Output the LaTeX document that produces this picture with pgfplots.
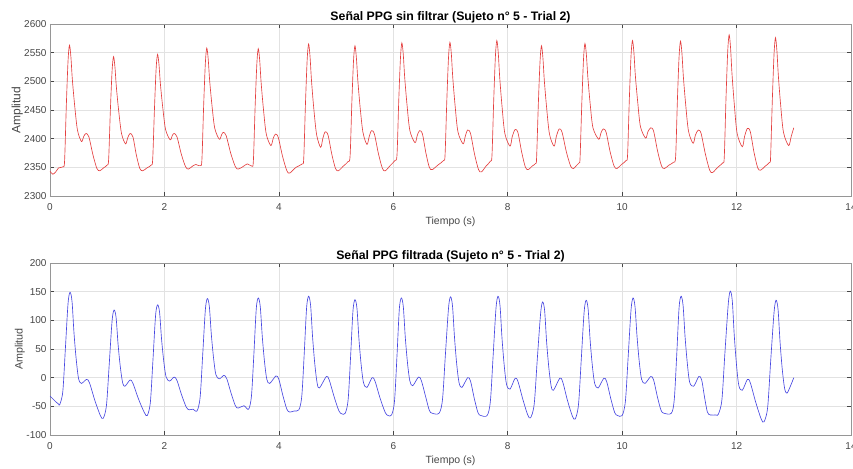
\documentclass[border=0pt]{standalone}
\usepackage{pgfplots}
\pgfplotsset{compat=1.18}
\usepackage{fontspec}
\setmainfont{Liberation Sans}
\definecolor{rawred}{RGB}{228,64,64}
\definecolor{filtblue}{RGB}{72,72,225}
\definecolor{gridgray}{RGB}{226,226,226}
\definecolor{framegray}{RGB}{150,150,150}
\definecolor{tickgray}{RGB}{70,70,70}
\pgfplotsset{
 matlab/.style={
  scale only axis, width=801pt, height=172pt,
  xmin=0, xmax=14, xtick={0,2,...,14},
  axis line style={framegray, line width=0.6pt},
  tick style={tickgray, line width=0.6pt},
  major tick length=4pt,
  tick align=inside,
  grid=major,
  major grid style={gridgray, line width=0.5pt},
  tick label style={font=\fontsize{10}{12}\selectfont, text=tickgray},
  xticklabel style={yshift=-4pt},
  /pgf/number format/assume math mode=true,
  /pgf/number format/1000 sep={},
  title style={font=\fontsize{12.3}{14}\selectfont\bfseries, at={(axis description cs:0.5,1)}, anchor=south, yshift=-9pt},
  xlabel style={font=\fontsize{10.5}{12}\selectfont, text=tickgray, anchor=center},
  ylabel style={text=tickgray, anchor=center},
 }
}
\begin{document}
\begin{tikzpicture}
\begin{axis}[matlab, at={(50pt,272pt)}, anchor=south west,
  ymin=2300, ymax=2600, ytick={2300,2350,...,2600},
  title={Señal PPG sin filtrar (Sujeto n° 5 - Trial 2)},
  xlabel={Tiempo (s)}, ylabel={Amplitud},
  xlabel style={at={(axis description cs:0.5,-0.152)}},
  ylabel style={at={(axis description cs:-0.041,0.5)}, font=\fontsize{12}{14}\selectfont}]
\addplot[rawred, line width=0.65pt, smooth, tension=0.5] table {
0 2343
0.05 2338
0.10 2342
0.15 2349
0.20 2350
0.23 2351
0.255 2361
0.285 2457
0.315 2535
0.34 2563
0.365 2543
0.39 2504
0.43 2459
0.48 2415
0.55 2395
0.59 2404
0.63 2409
0.68 2403
0.75 2372
0.82 2348
0.87 2344
0.935 2349
1.00 2354
1.025 2364
1.055 2449
1.085 2518
1.11 2543
1.135 2525
1.16 2490
1.20 2449
1.25 2409
1.32 2391
1.36 2402
1.40 2409
1.45 2403
1.51 2371
1.57 2348
1.62 2344
1.695 2349
1.77 2354
1.795 2364
1.825 2450
1.855 2522
1.88 2547
1.905 2529
1.93 2495
1.97 2455
2.02 2416
2.10 2398
2.14 2406
2.17 2409
2.22 2403
2.295 2373
2.37 2351
2.42 2347
2.49 2352
2.55 2355
2.60 2353
2.63 2353
2.655 2363
2.685 2456
2.715 2531
2.74 2558
2.765 2539
2.79 2502
2.83 2459
2.88 2418
2.96 2399
3.00 2407
3.03 2411
3.08 2405
3.16 2374
3.24 2351
3.29 2347
3.37 2351
3.45 2356
3.53 2352
3.555 2362
3.585 2455
3.615 2530
3.64 2557
3.665 2537
3.69 2498
3.73 2452
3.78 2408
3.86 2388
3.90 2400
3.94 2408
3.99 2402
4.065 2369
4.14 2344
4.19 2340
4.30 2350
4.41 2356
4.435 2366
4.465 2461
4.495 2538
4.52 2565
4.545 2543
4.57 2502
4.61 2453
4.66 2407
4.73 2385
4.77 2401
4.81 2412
4.86 2406
4.925 2373
4.99 2348
5.04 2344
5.125 2352
5.21 2360
5.245 2370
5.275 2461
5.305 2536
5.33 2562
5.355 2541
5.38 2502
5.42 2455
5.47 2411
5.54 2390
5.58 2404
5.62 2414
5.67 2408
5.74 2374
5.81 2348
5.86 2344
5.945 2353
6.03 2362
6.065 2372
6.095 2465
6.125 2540
6.15 2567
6.175 2546
6.20 2506
6.24 2459
6.29 2414
6.38 2393
6.42 2406
6.46 2414
6.51 2408
6.57 2375
6.63 2350
6.68 2346
6.78 2354
6.88 2362
6.905 2372
6.935 2465
6.965 2541
6.99 2568
7.015 2547
7.04 2506
7.08 2458
7.13 2412
7.22 2391
7.26 2405
7.30 2415
7.35 2409
7.42 2373
7.49 2346
7.54 2342
7.62 2352
7.70 2361
7.725 2371
7.755 2466
7.785 2544
7.81 2571
7.835 2549
7.86 2507
7.90 2457
7.95 2409
8.04 2387
8.08 2404
8.13 2416
8.18 2410
8.245 2376
8.31 2350
8.36 2346
8.425 2352
8.49 2357
8.505 2367
8.535 2460
8.565 2535
8.59 2562
8.615 2541
8.64 2501
8.68 2454
8.73 2408
8.81 2387
8.85 2404
8.90 2417
8.95 2411
9.025 2377
9.10 2352
9.15 2348
9.20 2353
9.25 2358
9.265 2368
9.295 2462
9.325 2539
9.35 2566
9.375 2546
9.40 2508
9.44 2462
9.49 2419
9.59 2399
9.63 2410
9.67 2417
9.72 2411
9.79 2377
9.86 2352
9.91 2348
9.99 2355
10.07 2362
10.095 2372
10.125 2467
10.155 2544
10.18 2571
10.205 2551
10.23 2511
10.27 2466
10.32 2421
10.41 2401
10.45 2412
10.50 2419
10.55 2413
10.62 2378
10.69 2352
10.74 2348
10.82 2354
10.90 2359
10.935 2369
10.965 2465
10.995 2543
11.02 2570
11.045 2549
11.07 2508
11.11 2460
11.16 2413
11.24 2392
11.28 2406
11.33 2415
11.38 2409
11.455 2373
11.53 2345
11.58 2341
11.67 2350
11.76 2358
11.785 2368
11.815 2470
11.845 2552
11.87 2581
11.895 2558
11.92 2513
11.96 2460
12.01 2409
12.10 2386
12.14 2404
12.19 2418
12.24 2412
12.305 2376
12.37 2349
12.42 2345
12.50 2352
12.58 2359
12.595 2369
12.625 2468
12.655 2548
12.68 2576
12.705 2553
12.73 2510
12.77 2459
12.82 2411
12.91 2388
12.955 2404
13.00 2419
};
\end{axis}
\begin{axis}[matlab, at={(50pt,33pt)}, anchor=south west,
  ymin=-100, ymax=200, ytick={-100,-50,...,200},
  title={Señal PPG filtrada (Sujeto n° 5 - Trial 2)},
  xlabel={Tiempo (s)}, ylabel={Amplitud},
  xlabel style={at={(axis description cs:0.5,-0.152)}},
  ylabel style={at={(axis description cs:-0.0375,0.5)}, font=\fontsize{10.7}{12}\selectfont}]
\addplot[filtblue, line width=0.65pt, smooth, tension=0.5] table {
0 -32
0.05 -37
0.10 -42
0.15 -46
0.17 -47
0.224 -24
0.269 51
0.315 129
0.35 149
0.385 133
0.42 77
0.46 30
0.50 -2
0.55 -10
0.64 -3
0.69 -9
0.785 -40
0.88 -66
0.93 -71
0.987 -48
1.035 23
1.085 99
1.12 118
1.155 105
1.19 58
1.23 18
1.27 -9
1.31 -15
1.40 -4
1.45 -10
1.55 -38
1.65 -61
1.70 -66
1.754 -43
1.799 30
1.845 108
1.88 127
1.915 114
1.95 67
1.99 27
2.03 1
2.09 -6
2.17 1
2.22 -5
2.30 -30
2.38 -51
2.43 -56
2.50 -55
2.57 -58
2.624 -34
2.669 40
2.715 118
2.75 138
2.785 124
2.82 75
2.86 33
2.90 5
2.96 -2
3.04 4
3.09 -2
3.165 -27
3.24 -49
3.29 -53
3.39 -49
3.47 -55
3.521 -32
3.564 42
3.605 120
3.64 139
3.675 124
3.71 72
3.75 27
3.79 -3
3.84 -10
3.95 3
4.00 -3
4.07 -31
4.14 -55
4.19 -60
4.27 -58
4.35 -56
4.401 -32
4.444 43
4.485 122
4.52 142
4.555 126
4.59 70
4.63 22
4.67 -10
4.71 -18
4.83 2
4.88 -4
4.965 -33
5.05 -58
5.10 -63
5.16 -62
5.211 -38
5.254 37
5.295 116
5.33 136
5.365 121
5.40 67
5.44 21
5.48 -9
5.54 -17
5.63 0
5.68 -6
5.77 -36
5.86 -61
5.91 -66
5.97 -65
6.021 -41
6.064 37
6.105 119
6.14 139
6.175 124
6.21 70
6.25 24
6.29 -6
6.34 -14
6.44 1
6.49 -5
6.565 -33
6.63 -57
6.68 -62
6.80 -62
6.86 -38
6.91 39
6.965 121
7.00 141
7.035 125
7.07 70
7.11 22
7.15 -9
7.20 -17
7.30 0
7.35 -6
7.415 -36
7.48 -61
7.53 -66
7.64 -66
7.697 -41
7.745 38
7.795 121
7.83 142
7.865 126
7.90 69
7.94 20
7.98 -12
8.04 -20
8.13 -1
8.18 -7
8.265 -38
8.35 -65
8.40 -70
8.463 -46
8.516 31
8.575 112
8.61 132
8.645 117
8.68 62
8.72 16
8.76 -15
8.80 -22
8.91 -1
8.96 -7
9.045 -40
9.13 -67
9.18 -72
9.237 -47
9.285 31
9.335 114
9.37 135
9.405 120
9.44 66
9.48 20
9.52 -10
9.58 -18
9.68 -1
9.73 -7
9.80 -36
9.87 -61
9.92 -66
10.00 -66
10.057 -41
10.105 36
10.155 118
10.19 139
10.225 124
10.26 72
10.30 27
10.34 -3
10.40 -10
10.50 2
10.55 -4
10.615 -33
10.68 -57
10.73 -62
10.86 -62
10.911 -38
10.954 40
10.995 122
11.03 142
11.065 126
11.10 71
11.14 24
11.18 -8
11.25 -15
11.34 2
11.39 -4
11.44 -34
11.49 -60
11.54 -65
11.64 -65
11.68 -64
11.743 -39
11.796 43
11.855 129
11.89 151
11.925 134
11.96 73
12.00 21
12.04 -14
12.10 -22
12.19 -3
12.24 -9
12.335 -43
12.43 -72
12.48 -77
12.543 -52
12.596 29
12.655 114
12.69 135
12.725 119
12.76 62
12.80 13
12.84 -19
12.88 -27
12.94 -15
13.00 0
};
\end{axis}
\pgfresetboundingbox
\useasboundingbox (0pt,0pt) rectangle (853pt,468pt);
\end{tikzpicture}
\end{document}
